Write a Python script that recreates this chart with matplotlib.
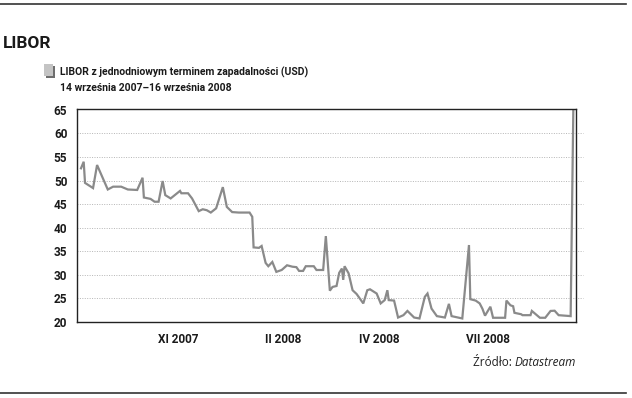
import pandas as pd
import numpy as np
import matplotlib
matplotlib.use('Agg')
import matplotlib.pyplot as plt
from matplotlib.patches import Rectangle
from matplotlib.lines import Line2D

# LIBOR overnight (USD), 14 Sep 2007 - 16 Sep 2008
start = pd.Timestamp('2007-09-14')
day_offsets = [0, 2, 3, 9, 12, 20, 24, 30, 35, 42, 46, 47, 52, 55, 58, 61, 63, 67,
               74, 75, 80, 83, 88, 91, 94, 97, 101, 106, 109, 113, 118, 126, 128,
               129, 133, 135, 138, 140, 143, 146, 150, 154, 158, 161, 163, 166,
               168, 174, 176, 181, 183, 186, 188, 191, 193, 195, 196, 197, 200,
               203, 206, 211, 214, 216, 221, 224, 227, 229, 230, 234, 237, 241,
               244, 249, 253, 257, 259, 262, 266, 272, 275, 277, 285, 290, 291,
               295, 298, 300, 302, 306, 308, 317, 318, 321, 323, 324, 329, 330,
               336, 337, 343, 347, 351, 354, 357, 366, 368]
libor = [52.6, 54.0, 49.5, 48.4, 53.3, 48.1, 48.7, 48.7, 48.1, 48.0, 50.6, 46.4,
         46.1, 45.5, 45.5, 49.9, 46.9, 46.2, 47.8, 47.3, 47.3, 46.2, 43.5, 43.9,
         43.7, 43.2, 44.1, 48.6, 44.4, 43.3, 43.2, 43.2, 42.3, 35.8, 35.7, 36.1,
         32.5, 31.8, 32.7, 30.6, 31.0, 32.0, 31.7, 31.6, 30.8, 30.8, 31.8, 31.8,
         31.0, 31.0, 38.2, 26.6, 27.4, 27.6, 30.4, 31.3, 28.9, 31.8, 30.3, 26.7,
         25.9, 23.9, 26.7, 26.9, 26.0, 23.9, 24.6, 26.7, 24.6, 24.5, 20.9, 21.4,
         22.3, 20.9, 20.7, 25.3, 26.0, 22.8, 21.2, 20.9, 23.8, 21.2, 20.7, 36.3,
         24.8, 24.5, 23.9, 22.8, 21.3, 23.2, 20.85, 20.85, 24.5, 23.5, 23.3, 21.9,
         21.6, 21.4, 21.4, 22.3, 20.85, 20.85, 22.3, 22.35, 21.4, 21.2, 65.0]
dates = [start + pd.Timedelta(days=d) for d in day_offsets]

yticks = [20, 25, 30, 35, 40, 45, 50, 55, 60, 65]
xtick_dates = ['2007-11-26', '2008-02-12', '2008-04-24', '2008-07-14']
xtick_labels = ['XI 2007', 'II 2008', 'IV 2008', 'VII 2008']

cond = ['Roboto', 'DejaVu Sans']
line_color = '#8a8a8a'
text_color = '#1a1a1a'

fig = plt.figure(figsize=(6.32, 3.98), dpi=100)
W, H = 632, 398
ax = fig.add_axes([77 / W, 1 - 322 / H, (576 - 77) / W, (322 - 109) / H])

ax.plot(dates, libor, color=line_color, lw=1.6, solid_joinstyle='miter')

ax.set_xlim(start - pd.Timedelta(days=3), start + pd.Timedelta(days=370))
ax.set_ylim(19.95, 65.2)
ax.set_yticks(yticks)
ax.set_yticklabels([str(v) for v in yticks], family=cond, fontweight='bold',
                   fontsize=8.5, color=text_color)
ax.set_xticks([pd.Timestamp(d) for d in xtick_dates])
ax.set_xticklabels(xtick_labels, family=cond, fontweight='bold', fontsize=8.5,
                   color=text_color)
ax.tick_params(axis='y', length=0, pad=7)
ax.tick_params(axis='x', length=0, pad=8)

# dotted gridlines, running a little past the right frame
for v in yticks[1:-1]:
    ax.axhline(v, xmin=0, xmax=1.014, color='#b5b5b5', lw=0.7, ls=(0, (1, 1.5)),
               clip_on=False, zorder=0)

for s in ax.spines.values():
    s.set_linewidth(1.0)
    s.set_color('#222222')

# header and rules
fig.add_artist(Line2D([0, 626 / W], [1 - 4 / H, 1 - 4 / H], color='#333333', lw=1.2))
fig.add_artist(Line2D([0, 626 / W], [1 - 393 / H, 1 - 393 / H], color='#333333', lw=1.2))
fig.text(3 / W, 1 - 43 / H, 'LIBOR', family=cond, fontweight='bold', fontsize=12.5,
         va='center', ha='left', color=text_color)

# legend swatch with shadow
fig.add_artist(Rectangle((46 / W, 1 - 78 / H), 9 / W, 12 / H, color='#6e6e6e', lw=0))
fig.add_artist(Rectangle((44 / W, 1 - 76 / H), 9 / W, 12 / H, color='#c4c4c4', lw=0))
fig.text(60 / W, 1 - 72 / H, 'LIBOR z jednodniowym terminem zapadalności (USD)',
         family=cond, fontweight='bold', fontsize=7.5, va='center', ha='left', color=text_color)
fig.text(60 / W, 1 - 88 / H, '14 września 2007–16 września 2008',
         family=cond, fontweight='bold', fontsize=7.5, va='center', ha='left', color=text_color)

# source note: regular + italic
src_it = fig.text(576 / W, 1 - 363 / H, 'Datastream', fontstyle='italic', fontsize=8.5,
                  family='Open Sans', va='center', ha='right', color='#222222')
fig.canvas.draw()
bb = src_it.get_window_extent()
fig.text(bb.x0 / W, 1 - 363 / H, 'Źródło: ', fontsize=8.5, family='Open Sans',
         va='center', ha='right', color='#222222')

fig.savefig('out.png', dpi=100)
